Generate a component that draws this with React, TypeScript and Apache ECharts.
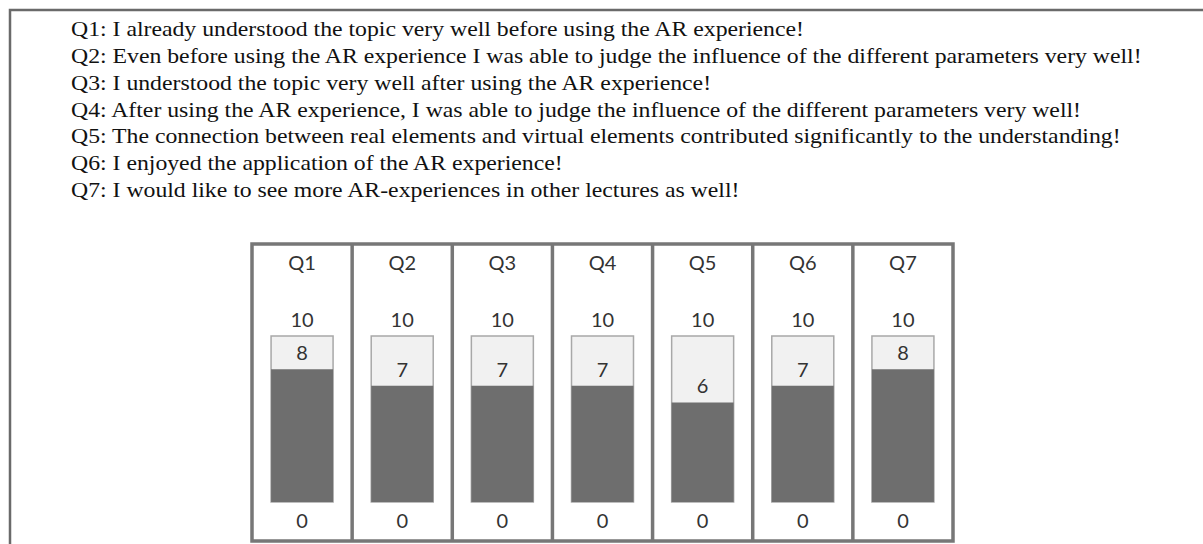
import React, { useEffect, useRef } from "react";
import * as echarts from "echarts";

const questions = [
  "Q1: I already understood the topic very well before using the AR experience!",
  "Q2: Even before using the AR experience I was able to judge the influence of the different parameters very well!",
  "Q3: I understood the topic very well after using the AR experience!",
  "Q4: After using the AR experience, I was able to judge the influence of the different parameters very well!",
  "Q5: The connection between real elements and virtual elements contributed significantly to the understanding!",
  "Q6: I enjoyed the application of the AR experience!",
  "Q7: I would like to see more AR-experiences in other lectures as well!",
];
const categories = ["Q1", "Q2", "Q3", "Q4", "Q5", "Q6", "Q7"];
const scores = [8, 7, 7, 7, 6, 7, 8];
const scaleMin = 0;
const scaleMax = 10;
const topTickLabel = "10";
const bottomTickLabel = "0";

// layout
const W = 1203;
const H = 544;
const PANEL_L = 252;
const PANEL_R = 953;
const PANEL_T = 244;
const PANEL_B = 541;
const BAR_T = 336;
const BAR_B = 502;
const BAR_W = 62;
const TEXT_X = 71;
const TEXT_Y0 = 29;
const TEXT_DY = 26.8;

export default function App() {
  const ref = useRef<HTMLDivElement>(null);

  useEffect(() => {
    if (!ref.current) return;
    const chart = echarts.init(ref.current, null, { renderer: "svg" });
    const n = categories.length;
    const pw = (PANEL_R - PANEL_L) / n;
    const centers = categories.map((_, i) => PANEL_L + pw * (i + 0.5));

    const grids = centers.map((c) => ({
      left: c - BAR_W / 2,
      width: BAR_W,
      top: BAR_T,
      height: BAR_B - BAR_T,
      containLabel: false,
    }));
    const xAxes = categories.map((cat, i) => ({
      type: "category",
      gridIndex: i,
      data: [cat],
      show: false,
    }));
    const yAxes = categories.map((_, i) => ({
      type: "value",
      gridIndex: i,
      min: scaleMin,
      max: scaleMax,
      interval: 10,
      show: false,
    }));
    const series = categories.map((cat, i) => ({
      type: "bar",
      name: cat,
      xAxisIndex: i,
      yAxisIndex: i,
      data: [scores[i]],
      barWidth: "100%",
      showBackground: true,
      backgroundStyle: {
        color: "#f1f1f1",
        borderColor: "#a8a8a8",
        borderWidth: 1.5,
      },
      itemStyle: { color: "#6e6e6e" },
      label: {
        show: true,
        position: "top",
        distance: 7,
        fontFamily: "Lato",
        fontSize: 20,
        color: "#333",
      },
    }));

    const graphic: any[] = [];
    // outer frame (extends beyond right/bottom edges)
    graphic.push({
      type: "rect",
      shape: { x: 10, y: 10, width: W + 40, height: H + 40 },
      style: { fill: "none", stroke: "#6a6a6a", lineWidth: 2.5 },
      silent: true,
    });
    questions.forEach((q, i) => {
      graphic.push({
        type: "text",
        x: TEXT_X,
        y: TEXT_Y0 + TEXT_DY * i,
        scaleX: 1.08,
        style: {
          text: q,
          fontFamily: "Liberation Serif",
          fontSize: 22,
          fill: "#111",
          align: "left",
          verticalAlign: "middle",
        },
        silent: true,
      });
    });
    // panel box
    graphic.push({
      type: "rect",
      shape: { x: PANEL_L, y: PANEL_T, width: PANEL_R - PANEL_L, height: PANEL_B - PANEL_T },
      style: { fill: "none", stroke: "#777777", lineWidth: 3.5 },
      silent: true,
    });
    for (let i = 1; i < n; i++) {
      const x = PANEL_L + pw * i;
      graphic.push({
        type: "line",
        shape: { x1: x, y1: PANEL_T, x2: x, y2: PANEL_B },
        style: { stroke: "#777777", lineWidth: 3.5 },
        silent: true,
      });
    }
    centers.forEach((c, i) => {
      const common = { fontFamily: "Lato", fontSize: 20, fill: "#333", align: "center", verticalAlign: "middle" };
      graphic.push({ type: "text", x: c, y: 262, style: { ...common, text: categories[i] }, silent: true });
      graphic.push({ type: "text", x: c, y: 319, style: { ...common, text: topTickLabel }, silent: true });
      graphic.push({ type: "text", x: c, y: 520, style: { ...common, text: bottomTickLabel }, silent: true });
    });

    chart.setOption({
      animation: false,
      backgroundColor: "#ffffff",
      grid: grids,
      xAxis: xAxes,
      yAxis: yAxes,
      series,
      graphic,
    } as any);

    return () => chart.dispose();
  }, []);

  return (
    <div
      ref={ref}
      style={{ position: "absolute", left: 0, top: 0, width: W, height: H }}
    />
  );
}
